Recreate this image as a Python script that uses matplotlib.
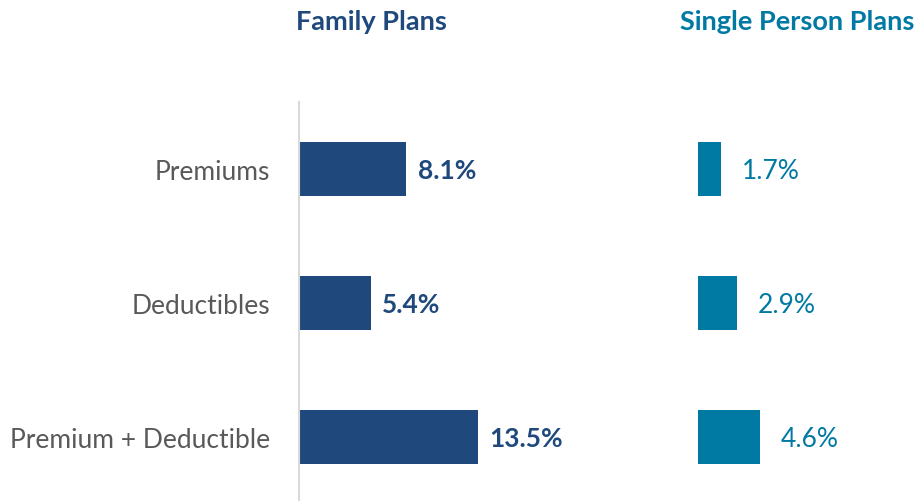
import matplotlib
matplotlib.use("Agg")
import matplotlib.pyplot as plt

plt.rcParams["font.family"] = ["Lato", "DejaVu Sans"]

# 数据
categories = ["Premiums", "Deductibles", "Premium + Deductible"]
family_values = [8.1, 5.4, 13.5]
single_values = [1.7, 2.9, 4.6]

navy = "#1F497D"
teal = "#0079A3"
grey_text = "#595959"

fig = plt.figure(figsize=(9.17, 5.02), dpi=100)
ax1 = fig.add_axes([299 / 917, -3 / 502, 240 / 917, 402 / 502])
ax2 = fig.add_axes([698 / 917, -3 / 502, 219 / 917, 402 / 502])

pos = list(range(len(categories)))

for ax, vals, color, bold in [(ax1, family_values, navy, True), (ax2, single_values, teal, False)]:
    bars = ax.barh(pos, vals, height=0.4, color=color)
    ax.set_ylim(len(categories) - 0.5, -0.5)
    for b, v in zip(bars, vals):
        ax.annotate(f"{v}%", (b.get_width(), b.get_y() + b.get_height() / 2),
                    xytext=(8 if bold else 15, -1), textcoords="offset points",
                    va="center", ha="left", fontsize=19, color=color,
                    fontweight="bold" if bold else "normal")
    ax.set_xticks([])
    for s in ["top", "right", "bottom"]:
        ax.spines[s].set_visible(False)

ax1.set_xlim(0, 18.1)
ax2.set_xlim(0, 16.2)

ax1.set_yticks(pos)
ax1.set_yticklabels(categories, fontsize=19, color=grey_text)
ax1.tick_params(axis="y", length=0, pad=21)
ax1.spines["left"].set_color("#D9D9D9")
ax1.spines["left"].set_linewidth(1.5)

ax2.set_yticks([])
ax2.spines["left"].set_visible(False)

fig.text(371 / 917, 1 - 22 / 502, "Family Plans", ha="center", va="center",
         fontsize=19.5, fontweight="bold", color=navy)
fig.text(797 / 917, 1 - 22 / 502, "Single Person Plans", ha="center", va="center",
         fontsize=19.5, fontweight="bold", color=teal)

fig.savefig("out.png", dpi=100)
